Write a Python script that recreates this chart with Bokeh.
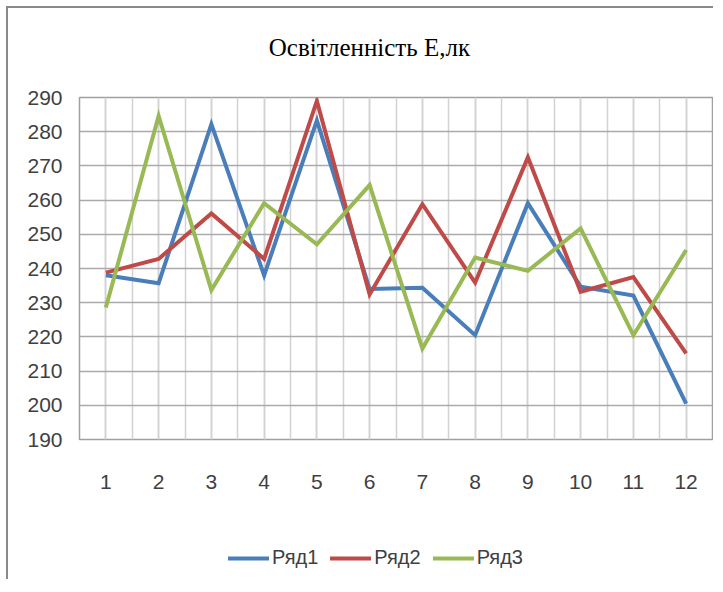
from bokeh.plotting import figure
from bokeh.layouts import column
from bokeh.models import Legend, LegendItem, SingleIntervalTicker, Range1d, Label
from bokeh.embed import file_html
from bokeh.resources import INLINE

# ---- data ----
months = [1, 2, 3, 4, 5, 6, 7, 8, 9, 10, 11, 12]
row1 = [238.0, 235.7, 282.2, 238.0, 283.3, 234.0, 234.4, 220.5, 259.1, 234.7, 232.1, 200.5]
row2 = [238.8, 242.8, 256.1, 242.8, 289.0, 232.4, 258.8, 235.9, 272.5, 233.2, 237.5, 215.2]
row3 = [228.6, 284.6, 233.7, 259.1, 247.1, 264.4, 216.6, 243.2, 239.3, 251.7, 220.5, 245.4]
series_names = ["Ряд1", "Ряд2", "Ряд3"]
series_colors = ["#4a7ebb", "#be4b48", "#98b954"]
title_text = "Освітленність Е,лк"
y_ticks = list(range(190, 291, 10))

SANS = "Liberation Sans"
BORDER = "2px solid #8a8a8a"


def strip(height, styles):
    f = figure(width=707, height=height, output_backend="svg", toolbar_location=None,
               x_range=Range1d(0, 1), y_range=Range1d(0, 1),
               x_axis_type=None, y_axis_type=None, min_border=0,
               background_fill_color="white", border_fill_color="white")
    f.styles = styles
    f.outline_line_color = None
    f.xgrid.visible = False
    f.ygrid.visible = False
    return f


# ---- title strip ----
pt = strip(77, {"border-left": BORDER, "border-top": BORDER})
pt.add_layout(Label(x=0.458, y=0.494, text=title_text, text_align="center",
                    text_baseline="middle", text_font="Liberation Serif",
                    text_font_size="25px", text_color="#000000"))

# ---- main chart ----
p = figure(width=707, height=418, output_backend="svg", toolbar_location=None,
           x_range=Range1d(months[0] - 0.5, months[-1] + 0.5),
           y_range=Range1d(y_ticks[0], y_ticks[-1]),
           min_border_left=71, min_border_right=3, min_border_top=14, min_border_bottom=62,
           background_fill_color="white", border_fill_color="white")
p.styles = {"border-left": BORDER}

p.outline_line_color = "#a0a0a0"
p.outline_line_width = 1.5

xt = SingleIntervalTicker(interval=1, num_minor_ticks=2)
p.xaxis.ticker = xt
p.xgrid.ticker = xt
p.yaxis.ticker = y_ticks

p.xgrid.grid_line_color = "#d2d2d2"
p.xgrid.grid_line_width = 1.5
p.xgrid.minor_grid_line_color = "#d2d2d2"
p.xgrid.minor_grid_line_width = 1.5
p.ygrid.grid_line_color = "#aaaaaa"
p.ygrid.grid_line_width = 1.5

for ax in (p.xaxis, p.yaxis):
    ax.axis_line_color = None
    ax.major_tick_line_color = None
    ax.minor_tick_line_color = None
    ax.major_tick_in = 0
    ax.major_tick_out = 0
    ax.minor_tick_in = 0
    ax.minor_tick_out = 0
    ax.major_label_text_font = SANS
    ax.major_label_text_font_size = "21px"
    ax.major_label_text_color = "#404040"
p.yaxis.major_label_standoff = 17
p.xaxis.major_label_standoff = 35

for col, vals in zip(series_colors, [row1, row2, row3]):
    p.line(months, vals, line_color=col, line_width=4, line_join="miter")

# ---- legend strip below the chart ----
pl = strip(78, {"border-left": BORDER})
items = []
for name, col, vals in zip(series_names, series_colors, [row1, row2, row3]):
    # same series, outside this strip's view; used only for the legend swatch
    r = pl.line(months, vals, line_color=col, line_width=4, line_cap="round")
    items.append(LegendItem(label=name, renderers=[r]))

legend = Legend(items=items, orientation="horizontal", location=(149, 10),
                glyph_width=41, glyph_height=20, label_standoff=3, spacing=12,
                padding=0, margin=0, border_line_color=None, background_fill_alpha=0,
                label_text_font=SANS, label_text_font_size="20px", label_text_color="#404040")
pl.add_layout(legend, "center")

layout = column(pt, p, pl, spacing=0)
layout.styles = {"transform": "translate(6px, 6px)"}

open("out.html", "w").write(file_html(layout, INLINE))
